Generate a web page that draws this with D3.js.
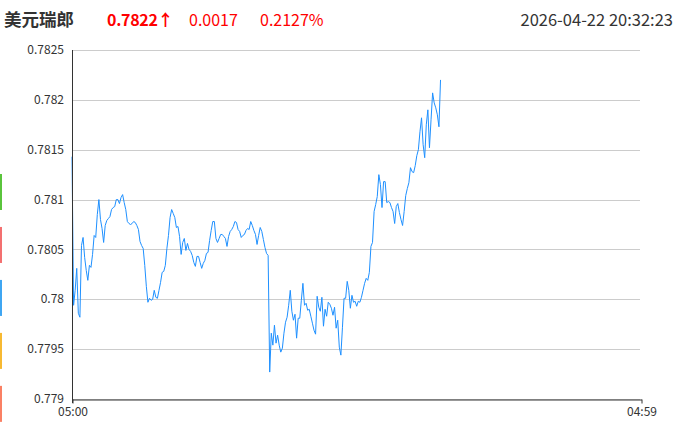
<!DOCTYPE html>
<html><head><meta charset="utf-8">
<script src="https://cdn.jsdelivr.net/npm/d3@7/dist/d3.min.js"></script>
<style>
html,body{margin:0;padding:0;background:#fff;}
svg{display:block;font-family:"Microsoft YaHei","Noto Sans CJK SC","Noto Sans",sans-serif;}
</style></head>
<body>
<svg id="chart" width="678" height="430"></svg>
<script>
// ---- data ----
const title = "美元瑞郎";
const lastPrice = "0.7822↑";
const change = "0.0017";
const changePct = "0.2127%";
const stamp = "2026-04-22 20:32:23";
const xTickLabels = ["05:00", "04:59"];
const xTickMinutes = [0, 1439];
const yTicks = [0.779, 0.7795, 0.78, 0.7805, 0.781, 0.7815, 0.782, 0.7825];
const stepMinutes = 4; // minutes between samples, from 05:00
const prices = [
0.78143,0.77994,0.78009,0.78031,0.77986,0.77982,0.78054,0.78062,0.78042,0.78029,
0.78019,0.78034,0.78032,0.78045,0.78064,0.78062,0.78085,0.78100,0.78080,0.78071,
0.78057,0.78074,0.78079,0.78081,0.78083,0.78090,0.78092,0.78093,0.78100,0.78100,
0.78096,0.78102,0.78105,0.78097,0.78090,0.78078,0.78076,0.78075,0.78076,0.78078,
0.78077,0.78074,0.78070,0.78058,0.78054,0.78051,0.78034,0.78013,0.77997,0.78001,
0.77999,0.78000,0.78009,0.78002,0.78001,0.78009,0.78017,0.78027,0.78028,0.78034,
0.78051,0.78064,0.78082,0.78090,0.78086,0.78082,0.78072,0.78073,0.78063,0.78045,
0.78057,0.78061,0.78049,0.78056,0.78050,0.78048,0.78044,0.78037,0.78033,0.78043,
0.78043,0.78037,0.78031,0.78036,0.78039,0.78046,0.78047,0.78059,0.78069,0.78078,
0.78078,0.78061,0.78057,0.78061,0.78065,0.78065,0.78063,0.78061,0.78053,0.78063,
0.78068,0.78070,0.78073,0.78078,0.78077,0.78070,0.78068,0.78062,0.78064,0.78065,
0.78069,0.78071,0.78070,0.78078,0.78074,0.78069,0.78065,0.78055,0.78064,0.78072,
0.78068,0.78060,0.78052,0.78046,0.78044,0.77927,0.77966,0.77954,0.77974,0.77956,
0.77964,0.77954,0.77947,0.77951,0.77966,0.77977,0.77982,0.77994,0.78009,0.77988,
0.77979,0.77985,0.77961,0.77981,0.77981,0.77999,0.78016,0.77994,0.77996,0.77989,
0.77990,0.77983,0.77976,0.77969,0.77965,0.78003,0.77992,0.77988,0.78002,0.77973,
0.77990,0.77983,0.77997,0.77995,0.77991,0.77984,0.77992,0.77971,0.77979,0.77952,
0.77944,0.77972,0.78001,0.78001,0.78018,0.78009,0.77991,0.78004,0.77997,0.77998,
0.77993,0.77998,0.77997,0.78002,0.78009,0.78016,0.78021,0.78019,0.78027,0.78053,
0.78057,0.78088,0.78095,0.78103,0.78125,0.78115,0.78092,0.78118,0.78118,0.78097,
0.78098,0.78097,0.78092,0.78088,0.78076,0.78093,0.78096,0.78087,0.78080,0.78074,
0.78088,0.78104,0.78111,0.78117,0.78132,0.78128,0.78127,0.78134,0.78144,0.78150,
0.78168,0.78182,0.78155,0.78142,0.78175,0.78190,0.78152,0.78180,0.78207,0.78197,
0.78192,0.78185,0.78173,0.78220
];
const sideColors = ["#5ac43c", "#f37070", "#3fa6f2", "#f7b932", "#fa8064"];

// ---- chart ----
const svg = d3.select("#chart");
const M = {left: 72, right: 641, top: 50, bottom: 399};

const x = d3.scaleLinear().domain([0, 1439]).range([M.left, M.right]);
const y = d3.scaleLinear().domain([0.779, 0.7825]).range([M.bottom, M.top]);

// header
const hdr = svg.append("g").attr("font-size", 16);
hdr.append("text").attr("x", 4).attr("y", 26).attr("fill", "#333").attr("font-weight", "bold")
  .attr("font-size", 17.5).text(title);
hdr.append("text").attr("x", 107).attr("y", 26).attr("fill", "#ff0000").attr("font-weight", "bold")
  .attr("letter-spacing", -0.3).text(lastPrice);
hdr.append("text").attr("x", 189).attr("y", 26).attr("fill", "#ff0000").text(change);
hdr.append("text").attr("x", 260).attr("y", 26).attr("fill", "#ff0000").text(changePct);
hdr.append("text").attr("x", 673).attr("y", 26).attr("fill", "#333").attr("text-anchor", "end")
  .attr("font-size", 16.5).text(stamp);

// side color bars
const band = d3.scaleBand().domain(d3.range(sideColors.length)).range([174, 424]).paddingInner(0.28);
svg.append("g").selectAll("rect").data(sideColors).join("rect")
  .attr("x", 0).attr("y", (d, i) => band(i)).attr("width", 2).attr("height", 36)
  .attr("fill", d => d);

// gridlines
svg.append("g").selectAll("line").data(yTicks).join("line")
  .attr("x1", M.left).attr("x2", 640)
  .attr("y1", d => Math.round(y(d)) + 0.5).attr("y2", d => Math.round(y(d)) + 0.5)
  .attr("stroke", "#cccccc").attr("stroke-width", 1);

// y labels
const fmt = d3.format("~f");
svg.append("g").selectAll("text").data(yTicks).join("text")
  .attr("x", 64).attr("y", d => y(d)).attr("dy", "0.35em")
  .attr("text-anchor", "end").attr("font-size", 12).attr("fill", "#333")
  .text(d => fmt(d));

// line
const line = d3.line().x((d, i) => x(i * stepMinutes)).y(d => y(d));
svg.append("path").datum(prices)
  .attr("d", line).attr("fill", "none")
  .attr("stroke", "#1e90ff").attr("stroke-width", 1).attr("stroke-linejoin", "round");

// axes
svg.append("line").attr("x1", M.left + 0.5).attr("x2", M.left + 0.5)
  .attr("y1", M.top).attr("y2", M.bottom + 4).attr("stroke", "#333");
const xAxis = d3.axisBottom(x).tickValues(xTickMinutes)
  .tickFormat((d, i) => xTickLabels[i]).tickSize(4).tickSizeOuter(0);
const gx = svg.append("g").attr("transform", `translate(0.5,${M.bottom + 0.5})`).call(xAxis);
gx.select(".domain").attr("stroke", "#333");
gx.selectAll(".tick line").attr("stroke", "#333");
gx.selectAll(".tick text").attr("font-size", 12).attr("fill", "#333")
  .attr("font-family", "\"Microsoft YaHei\",\"Noto Sans CJK SC\",sans-serif").attr("y", 8);
</script>
</body></html>
